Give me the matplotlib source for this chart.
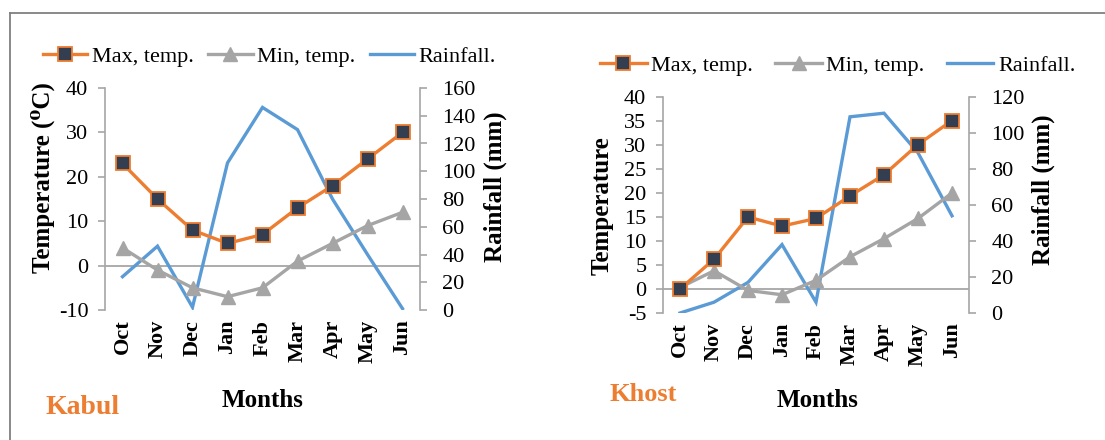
import matplotlib
matplotlib.use('Agg')
import matplotlib.pyplot as plt
from matplotlib.lines import Line2D

months = ['Oct', 'Nov', 'Dec', 'Jan', 'Feb', 'Mar', 'Apr', 'May', 'Jun']
kabul_max = [23, 15, 8, 5, 7, 13, 18, 24, 30]
kabul_min = [4, -1, -5, -7, -5, 1, 5, 9, 12]
kabul_rain = [24, 46, 2, 106, 146, 130, 80, 40, 1]
khost_max = [0, 6.2, 15, 13.1, 14.7, 19.4, 23.8, 30.1, 35.1]
khost_min = [0.3, 3.8, -0.3, -1.2, 1.8, 6.7, 10.5, 14.7, 20]
khost_rain = [0, 6, 17, 38, 6, 109, 111, 89, 54]
legend_labels = ['Max, temp.', 'Min, temp.', 'Rainfall.']

ORANGE = '#ED7D31'
GRAY = '#A5A5A5'
BLUE = '#5B9BD5'
NAVY = '#333F50'
SPINE = '#A6A6A6'

plt.rcParams['font.family'] = ['Liberation Serif', 'DejaVu Serif']
plt.rcParams['axes.unicode_minus'] = False

W, H = 1105, 440
fig = plt.figure(figsize=(W / 100, H / 100), dpi=100)


def rect(x0, y0, x1, y1):
    return [x0 / W, 1 - y1 / H, (x1 - x0) / W, (y1 - y0) / H]


def panel(r, mx, mn, rain, tlim, tticks, rlim, rticks):
    ax = fig.add_axes(r)
    ax2 = ax.twinx()
    ax.set_zorder(ax2.get_zorder() + 1)
    ax.patch.set_visible(False)
    x = list(range(len(months)))
    # zero line (category axis) drawn beneath rainfall
    ax2.add_line(Line2D([0, 1], [0, 0], transform=ax.get_yaxis_transform(),
                        color=SPINE, lw=1.3, zorder=1))
    ax2.plot(x, rain, color=BLUE, lw=2.4, zorder=3, solid_joinstyle='miter')
    ax.plot(x, mn, color=GRAY, lw=2.4, marker='^', ms=10.5, mfc=GRAY, mec=GRAY,
            zorder=3)
    ax.plot(x, mx, color=ORANGE, lw=2.4, marker='s', ms=10, mfc=NAVY,
            mec=ORANGE, mew=1.3, zorder=4)
    ax.set_xlim(-0.5, len(months) - 0.5)
    ax.set_ylim(*tlim)
    ax.set_yticks(tticks)
    ax2.set_ylim(*rlim)
    ax2.set_yticks(rticks)
    ax.set_xticks(x)
    ax.set_xticklabels(months, rotation=90, fontweight='bold', fontsize=16)
    ax.tick_params(axis='x', length=0, pad=7)
    ax.tick_params(axis='y', direction='out', length=5, color=SPINE, width=1.2,
                   labelsize=16, pad=7)
    ax2.tick_params(axis='y', direction='out', length=5, color=SPINE, width=1.2,
                    labelsize=16, pad=11)
    for s in ['top', 'bottom', 'right']:
        ax.spines[s].set_visible(False)
    for s in ['top', 'bottom', 'left']:
        ax2.spines[s].set_visible(False)
    ax.spines['left'].set_color(SPINE)
    ax.spines['left'].set_linewidth(1.2)
    ax2.spines['right'].set_color(SPINE)
    ax2.spines['right'].set_linewidth(1.2)
    return ax, ax2


def legend(x0, yc, colsp, hl):
    handles = [
        Line2D([], [], color=ORANGE, lw=2.4, marker='s', ms=10, mfc=NAVY,
               mec=ORANGE, mew=1.3),
        Line2D([], [], color=GRAY, lw=2.4, marker='^', ms=10.5, mfc=GRAY,
               mec=GRAY),
        Line2D([], [], color=BLUE, lw=2.4),
    ]
    fig.legend(handles, legend_labels, loc='center left',
               bbox_to_anchor=(x0 / W, 1 - yc / H), ncol=3, frameon=False,
               fontsize=16, handlelength=hl, handletextpad=0.2,
               columnspacing=colsp, borderaxespad=0, borderpad=0)


# Kabul
panel(rect(105, 88, 420, 310), kabul_max, kabul_min, kabul_rain,
      (-10, 40), list(range(-10, 41, 10)), (0, 160), list(range(0, 161, 20)))
legend(43, 57, 0.65, 2.0)
fig.text(43 / W, 1 - 178 / H, 'Temperature (⁰C)', rotation=90, fontsize=18,
         fontweight='bold', ha='center', va='center')
fig.text(495 / W, 1 - 187 / H, 'Rainfall (mm)', rotation=90, fontsize=18,
         fontweight='bold', ha='center', va='center')
fig.text(263 / W, 1 - 400 / H, 'Months', fontsize=18, fontweight='bold',
         ha='center', va='center')
fig.text(46 / W, 1 - 407 / H, 'Kabul', fontsize=20, fontweight='bold',
         color=ORANGE, ha='left', va='center')

# Khost
panel(rect(663, 97, 969, 313), khost_max, khost_min, khost_rain,
      (-5, 40), list(range(-5, 41, 5)), (0, 120), list(range(0, 121, 20)))
legend(600, 66, 1.0, 2.1)
fig.text(602 / W, 1 - 206 / H, 'Temperature', rotation=90, fontsize=18,
         fontweight='bold', ha='center', va='center')
fig.text(1043 / W, 1 - 190 / H, 'Rainfall (mm)', rotation=90, fontsize=18,
         fontweight='bold', ha='center', va='center')
fig.text(818 / W, 1 - 400 / H, 'Months', fontsize=18, fontweight='bold',
         ha='center', va='center')
fig.text(610 / W, 1 - 394 / H, 'Khost', fontsize=19, fontweight='bold',
         color=ORANGE, ha='left', va='center')

# outer frame (top and left edges visible)
fig.add_artist(Line2D([10 / W, 1], [1 - 13 / H, 1 - 13 / H],
                      transform=fig.transFigure, color='#808080', lw=1.3))
fig.add_artist(Line2D([10 / W, 10 / W], [1 - 13 / H, 0],
                      transform=fig.transFigure, color='#808080', lw=1.3))

fig.savefig('out.png', dpi=100)
